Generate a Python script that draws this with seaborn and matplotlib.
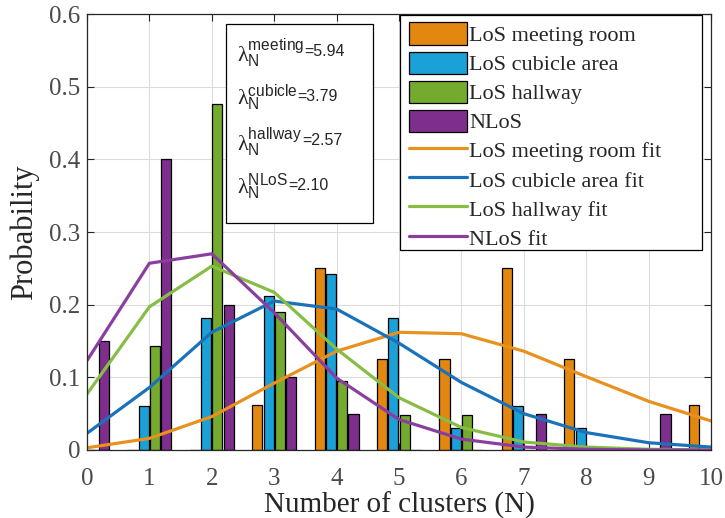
#!/usr/bin/env python3
"""Cluster-count histograms per scenario with Poisson fits."""

import matplotlib
matplotlib.use("Agg")
import matplotlib.pyplot as plt
from matplotlib.patches import Patch, Rectangle
from matplotlib.lines import Line2D
import pandas as pd
import seaborn as sns

# Data
n_clusters = [0, 1, 2, 3, 4, 5, 6, 7, 8, 9, 10]
scenarios = ["LoS meeting room", "LoS cubicle area", "LoS hallway", "NLoS"]

meeting_prob = [0, 0, 0, 0.0625, 0.25, 0.125, 0.125, 0.25, 0.125, 0, 0.0625]
cubicle_prob = [0, 0.0606, 0.182, 0.212, 0.242, 0.182, 0.0303, 0.0606, 0.0303, 0, 0]
hallway_prob = [0, 0.143, 0.476, 0.190, 0.095, 0.048, 0.048, 0, 0, 0, 0]
nlos_prob = [0.15, 0.40, 0.20, 0.10, 0.05, 0, 0, 0.05, 0, 0.05, 0]

meeting_fit = [0.003, 0.016, 0.046, 0.092, 0.136, 0.162, 0.160, 0.136, 0.101, 0.067, 0.040]
cubicle_fit = [0.023, 0.086, 0.162, 0.205, 0.194, 0.147, 0.093, 0.050, 0.024, 0.010, 0.004]
hallway_fit = [0.077, 0.197, 0.253, 0.217, 0.139, 0.072, 0.031, 0.011, 0.004, 0.001, 0.000]
nlos_fit = [0.123, 0.257, 0.270, 0.189, 0.099, 0.042, 0.015, 0.004, 0.001, 0.000, 0.000]

lambda_labels = ["meeting", "cubicle", "hallway", "NLoS"]
lambda_values = ["5.94", "3.79", "2.57", "2.10"]

bar_colors = ["#e2870f", "#1ba0d7", "#74ab2f", "#7e2f8e"]
line_colors = ["#e8911f", "#1a72bb", "#88bd45", "#8a3fa0"]

# Long-form table for seaborn
probs = [meeting_prob, cubicle_prob, hallway_prob, nlos_prob]
bars_df = pd.concat(
    [pd.DataFrame({"N": n_clusters, "prob": p, "scenario": s}) for s, p in zip(scenarios, probs)],
    ignore_index=True,
)
fits = [meeting_fit, cubicle_fit, hallway_fit, nlos_fit]

sns.set_theme(style="ticks")
plt.rcParams["font.family"] = ["Liberation Serif", "DejaVu Serif"]
plt.rcParams["mathtext.fontset"] = "custom"
plt.rcParams["mathtext.rm"] = "Liberation Serif"
plt.rcParams["mathtext.sf"] = "Liberation Sans"
plt.rcParams["mathtext.it"] = "Liberation Serif:italic"

fig = plt.figure(figsize=(7.25, 5.18), dpi=100)
ax = fig.add_axes([87 / 725, 1 - 450 / 518, 624 / 725, 436 / 518])


def px(x, y):
    """Figure pixel (from top-left) to axes fraction."""
    return (x - 87) / 624, (450 - y) / 436


sns.barplot(
    data=bars_df, x="N", y="prob", hue="scenario", hue_order=scenarios,
    palette=bar_colors, native_scale=True, width=0.72, gap=0.1,
    edgecolor="black", linewidth=0.9, saturation=1, legend=False, ax=ax,
)

for fit, color in zip(fits, line_colors):
    sns.lineplot(x=n_clusters, y=fit, color=color, linewidth=2.3, ax=ax)

ax.set_xlim(0, 10)
ax.set_ylim(0, 0.6)
ax.set_xticks(range(0, 11))
ax.set_yticks([0, 0.1, 0.2, 0.3, 0.4, 0.5, 0.6])
ax.set_yticklabels(["0", "0.1", "0.2", "0.3", "0.4", "0.5", "0.6"])
ax.grid(True, color="#dcdcdc", linewidth=0.8)
ax.set_axisbelow(True)
ax.tick_params(direction="in", length=5, width=0.8, top=True, right=True,
               labelsize=18, labelcolor="#4a4a4a", color="#262626")
ax.tick_params(axis="x", pad=13)
ax.tick_params(axis="y", pad=5)
for sp in ax.spines.values():
    sp.set_color("#262626")
    sp.set_linewidth(0.9)

ax.set_xlabel("Number of clusters (N)", fontsize=21, labelpad=1.5)
ax.set_ylabel("Probability", fontsize=22, labelpad=7)

# Legend: bars then fits, with a hand-drawn frame
x0, y0 = px(400, 15)
x1, y1 = px(702, 250)
ax.add_patch(Rectangle((x0, y1), x1 - x0, y0 - y1, transform=ax.transAxes,
                       facecolor="white", edgecolor="black", linewidth=0.9, zorder=5))
handles = [Patch(facecolor=c, edgecolor="black", linewidth=0.9) for c in bar_colors]
handles += [Line2D([0], [0], color=c, linewidth=2.3) for c in line_colors]
labels = scenarios + [s + " fit" for s in scenarios]
leg = ax.legend(handles, labels, loc="upper left", bbox_to_anchor=px(405, 18),
                borderaxespad=0, fontsize=16, frameon=False,
                handlelength=2.6, handleheight=1.15,
                handletextpad=0.1, labelspacing=0.25, borderpad=0.2)
leg.set_zorder(6)

# Lambda annotation box
bx0, by0 = px(226, 24)
bx1, by1 = px(373, 223)
ax.add_patch(Rectangle((bx0, by1), bx1 - bx0, by0 - by1, transform=ax.transAxes,
                       facecolor="white", edgecolor="black", linewidth=0.9, zorder=5))
fig.canvas.draw()
renderer = fig.canvas.get_renderer()
y_px = [53, 98, 142, 187]
for name, val, yp in zip(lambda_labels, lambda_values, y_px):
    sym = ax.text(*px(237, yp),
                  r"$\mathrm{\lambda}_{\mathsf{N}}^{\mathsf{" + name + r"}}$",
                  transform=ax.transAxes, va="center", ha="left", fontsize=16,
                  zorder=6)
    bb = sym.get_window_extent(renderer)
    x_ax = ax.transAxes.inverted().transform((bb.x1, bb.y0))[0]
    ax.text(x_ax, px(0, yp - 2)[1], "=" + val, transform=ax.transAxes,
            va="center", ha="left", fontsize=11.5, family="Liberation Sans", zorder=6)

fig.savefig("out.png", dpi=100)
